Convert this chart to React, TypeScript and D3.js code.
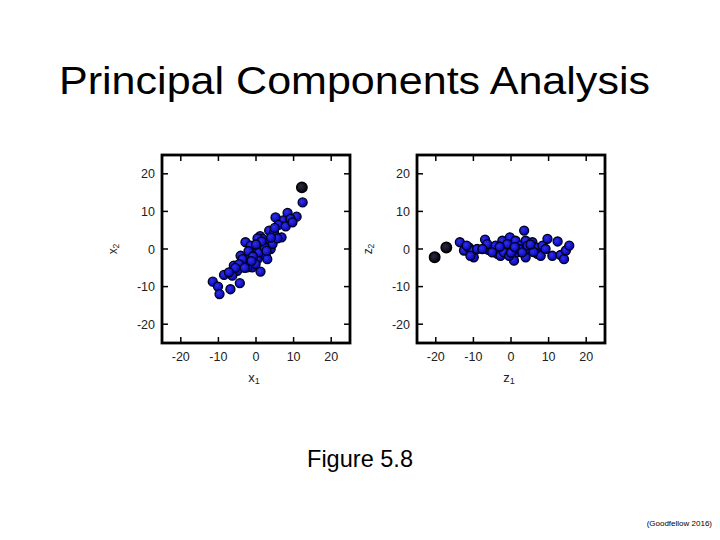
import React from "react";
import * as d3 from "d3";

const W = 720;
const H = 540;

const TICKS = [-20, -10, 0, 10, 20];
const TICK_LABELS = ["-20", "-10", "0", "10", "20"];

// Left panel: original data (x1, x2)
const X1 = [12.4, 10.8, 8.4, 7.2, 5.2, 6.0, 9.2, 3.5, 4.8, 6.8, 1.1, 1.7, 0.4, 3.0, 3.9, -2.8, -0.5, 1.2, 2.6, -1.9, -4.1, 0.4, -3.2, -1.0, 1.2, -5.9, -5.0, -6.3, -2.3, -8.5, -11.5, -10.1, -9.7, -6.8, -4.3, 0.8, 2.0, -1.4, -3.6, -4.5, -0.1, 3.0, 4.4, 5.7, 7.9, 9.7, 2.3, -2.0, -0.8, 1.5, 4.0, -3.0, -5.5, -7.2, 0.0, 2.8, -1.2, 5.0];
const X2 = [12.4, 8.6, 9.6, 7.6, 8.4, 6.4, 8.0, 4.9, 4.4, 3.1, 3.4, 2.7, 2.8, 1.5, 0.0, 1.8, 0.0, -0.7, -1.8, -1.6, -1.8, -2.7, -3.6, -4.9, -6.0, -4.4, -5.8, -7.1, -4.9, -6.9, -8.7, -10.0, -12.0, -10.7, -9.1, -0.9, 0.9, 0.9, -2.7, -4.0, -4.0, -2.7, 1.3, 2.8, 6.0, 7.1, 0.4, -0.6, -2.0, 2.0, 3.0, -5.0, -5.0, -6.2, 1.2, -0.5, -3.2, 5.6];
// Left panel highlighted (dark) point
const X1_DARK = [12.2];
const X2_DARK = [16.4];

// Right panel: projected data (z1, z2)
const Z1 = [-13.6, -12.5, -11.2, -9.9, -10.3, -9.0, -6.9, -6.0, -6.3, -4.1, -3.6, -2.3, -2.8, -1.4, -0.3, 0.4, 0.8, 1.2, 1.7, 2.6, 3.5, 3.9, 3.9, 4.8, 5.7, 6.6, 7.0, 7.9, 8.4, 9.7, 9.2, 11.0, 12.4, 13.2, 14.1, 14.6, 15.5, -1.0, -1.9, 2.1, 3.0, 4.4, -0.5, -5.0, -7.6, -10.8, -11.8, 0.0, 1.0, 6.0, -3.0, 5.2];
const Z2 = [1.8, -0.4, 0.4, -2.2, -0.4, 0.0, 2.5, -0.2, 1.3, 0.9, -1.3, 2.2, -1.8, 0.0, 3.1, 0.9, -3.1, 2.2, -0.9, 0.9, 4.9, 2.2, -2.2, 0.0, 1.8, 0.4, -1.3, -1.8, 0.9, 2.7, 0.0, -1.8, 2.0, -1.6, -2.7, -0.4, 0.9, 1.3, -0.9, 0.0, -0.9, 0.9, -1.8, -0.9, 0.0, -1.8, 0.9, -1.0, 0.5, -0.8, 0.6, 1.2];
const Z1_DARK = [-20.3, -17.2];
const Z2_DARK = [-2.2, 0.4];

type PanelProps = {
  left: number;
  xs: number[];
  ys: number[];
  xd: number[];
  yd: number[];
  xName: string;
  yName: string;
};

const TOP = 155;
const SIZE = 188;

function Panel({ left, xs, ys, xd, yd, xName, yName }: PanelProps) {
  const x = d3.scaleLinear().domain([-25, 25]).range([left, left + SIZE]);
  const y = d3.scaleLinear().domain([-25, 25]).range([TOP + SIZE, TOP]);
  const tl = 6;
  const font = "Arial, 'Liberation Sans', sans-serif";
  return (
    <g>
      {xs.map((v, i) => (
        <circle key={"p" + i} cx={x(v)} cy={y(ys[i])} r={4.5} fill="url(#blueGrad)" stroke="#000018" strokeWidth={1.3} />
      ))}
      {xd.map((v, i) => (
        <circle key={"d" + i} cx={x(v)} cy={y(yd[i])} r={5.2} fill="url(#darkGrad)" stroke="#000" strokeWidth={1.5} />
      ))}
      <rect x={left} y={TOP} width={SIZE} height={SIZE} fill="none" stroke="#000" strokeWidth={2.8} />
      {TICKS.map((t, i) => (
        <g key={"t" + i}>
          <line x1={x(t)} x2={x(t)} y1={TOP} y2={TOP + tl} stroke="#000" strokeWidth={1.5} />
          <line x1={x(t)} x2={x(t)} y1={TOP + SIZE} y2={TOP + SIZE - tl} stroke="#000" strokeWidth={1.5} />
          <line x1={left} x2={left + tl} y1={y(t)} y2={y(t)} stroke="#000" strokeWidth={1.5} />
          <line x1={left + SIZE} x2={left + SIZE - tl} y1={y(t)} y2={y(t)} stroke="#000" strokeWidth={1.5} />
          <text x={x(t)} y={TOP + SIZE + 18} textAnchor="middle" fontFamily={font} fontSize={12.5} fill="#222">
            {TICK_LABELS[i]}
          </text>
          <text x={left - 7} y={y(t) + 4.5} textAnchor="end" fontFamily={font} fontSize={12.5} fill="#222">
            {TICK_LABELS[i]}
          </text>
        </g>
      ))}
      <text x={x(-0.5)} y={TOP + SIZE + 39} textAnchor="middle" fontFamily={font} fontSize={13} fill="#222">
        {xName}
        <tspan fontSize={9} dy={2}>1</tspan>
      </text>
      <text transform={`translate(${left - 45},${y(0)}) rotate(-90)`} textAnchor="middle" fontFamily={font} fontSize={12} fill="#222">
        {yName}
        <tspan fontSize={8.5} dy={2}>2</tspan>
      </text>
    </g>
  );
}

export default function App() {
  const font = "Arial, 'Liberation Sans', sans-serif";
  return (
    <svg width={W} height={H} style={{ position: "absolute", left: 0, top: 0, background: "#fff" }}>
      <defs>
        <radialGradient id="blueGrad" cx="40%" cy="40%" r="60%">
          <stop offset="0%" stopColor="#3030f0" />
          <stop offset="100%" stopColor="#0606b0" />
        </radialGradient>
        <radialGradient id="darkGrad" cx="40%" cy="40%" r="60%">
          <stop offset="0%" stopColor="#2a2a40" />
          <stop offset="100%" stopColor="#05050f" />
        </radialGradient>
      </defs>
      <rect width={W} height={H} fill="#fff" />
      <text x={59} y={94} fontFamily={font} fontSize={38} fill="#000" textLength={591} lengthAdjust="spacingAndGlyphs">
        Principal Components Analysis
      </text>
      <text x={307} y={467} fontFamily={font} fontSize={24} fill="#000" textLength={106} lengthAdjust="spacingAndGlyphs">
        Figure 5.8
      </text>
      <Panel left={162} xs={X1} ys={X2} xd={X1_DARK} yd={X2_DARK} xName="x" yName="x" />
      <Panel left={417} xs={Z1} ys={Z2} xd={Z1_DARK} yd={Z2_DARK} xName="z" yName="z" />
      <text x={712} y={526} textAnchor="end" fontFamily={font} fontSize={8} fill="#000">
        (Goodfellow 2016)
      </text>
    </svg>
  );
}
